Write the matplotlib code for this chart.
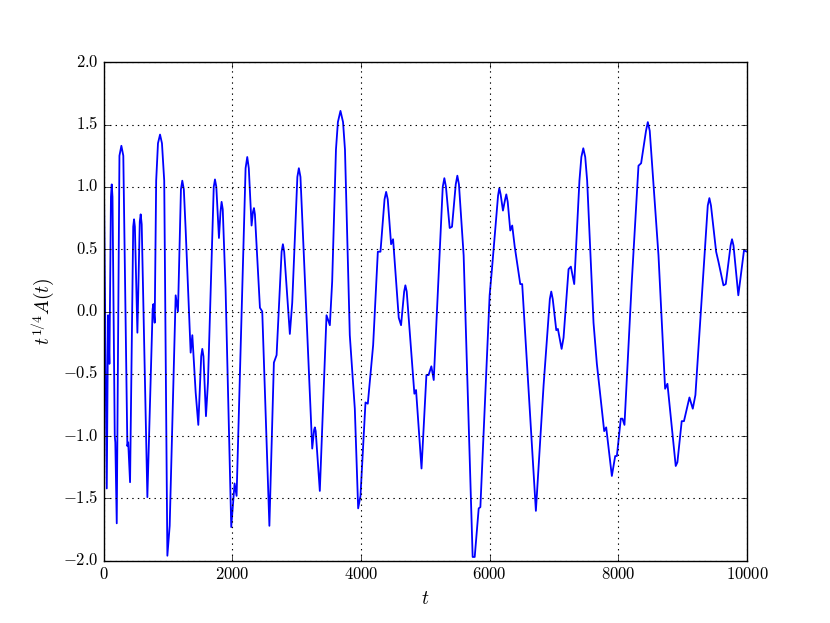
import matplotlib
matplotlib.use("Agg")
import matplotlib.pyplot as plt
from matplotlib.ticker import FuncFormatter

t_vals = [
    0, 47, 67, 88, 112, 124, 136, 171, 180, 202,
    244, 274, 304, 367, 380, 409, 458, 471, 484, 523,
    560, 574, 590, 678, 760, 772, 792, 815, 843, 875,
    905, 940, 989, 1025, 1118, 1154, 1200, 1221, 1245, 1273,
    1351, 1377, 1429, 1470, 1515, 1532, 1550, 1589, 1620, 1710,
    1729, 1750, 1791, 1815, 1832, 1850, 1894, 1982, 2034, 2065,
    2205, 2231, 2255, 2298, 2320, 2335, 2350, 2428, 2464, 2575,
    2645, 2687, 2765, 2785, 2805, 2893, 2930, 3010, 3033, 3058,
    3241, 3270, 3282, 3295, 3359, 3463, 3515, 3551, 3610, 3640,
    3680, 3720, 3750, 3825, 3903, 3955, 3991, 4069, 4105, 4188,
    4261, 4302, 4365, 4390, 4415, 4467, 4498, 4586, 4622, 4670,
    4689, 4710, 4829, 4855, 4940, 5016, 5050, 5093, 5130, 5270,
    5295, 5320, 5378, 5414, 5472, 5497, 5522, 5595, 5735, 5767,
    5829, 5855, 5999, 6035, 6130, 6149, 6170, 6206, 6240, 6258,
    6280, 6320, 6350, 6389, 6475, 6505, 6718, 6838, 6935, 6957,
    6980, 7035, 7060, 7118, 7148, 7226, 7262, 7314, 7395, 7425,
    7455, 7485, 7515, 7614, 7666, 7780, 7811, 7899, 7951, 7977,
    8038, 8064, 8095, 8209, 8313, 8354, 8430, 8458, 8488, 8624,
    8727, 8763, 8892, 8918, 8985, 9020, 9105, 9157, 9198, 9390,
    9415, 9440, 9520, 9556, 9634, 9670, 9745, 9767, 9790, 9865,
    9953, 10000]
a_vals = [
    1.20, -1.42, -0.03, -0.42, 0.92, 1.02, 0.92, -1.00, -1.05, -1.70,
    1.25, 1.33, 1.25, -1.08, -1.05, -1.37, 0.68, 0.74, 0.68, -0.17,
    0.72, 0.78, 0.70, -1.49, 0.02, 0.06, -0.09, 1.05, 1.35, 1.42,
    1.35, 1.05, -1.96, -1.72, 0.13, 0.00, 0.98, 1.05, 0.98, 0.66,
    -0.33, -0.19, -0.65, -0.91, -0.36, -0.30, -0.36, -0.84, -0.57, 1.00,
    1.06, 1.00, 0.59, 0.80, 0.88, 0.82, 0.18, -1.73, -1.38, -1.48,
    1.15, 1.24, 1.15, 0.69, 0.80, 0.83, 0.78, 0.03, 0.00, -1.72,
    -0.41, -0.35, 0.48, 0.54, 0.48, -0.18, 0.07, 1.08, 1.15, 1.08,
    -1.10, -0.95, -0.93, -0.96, -1.44, -0.03, -0.11, 0.24, 1.30, 1.52,
    1.61, 1.52, 1.30, -0.19, -0.78, -1.58, -1.48, -0.73, -0.74, -0.27,
    0.48, 0.48, 0.90, 0.96, 0.90, 0.54, 0.58, -0.05, -0.11, 0.16,
    0.21, 0.16, -0.66, -0.63, -1.26, -0.51, -0.51, -0.44, -0.55, 1.00,
    1.07, 1.00, 0.67, 0.68, 1.02, 1.09, 1.02, 0.45, -1.97, -1.97,
    -1.58, -1.57, 0.13, 0.34, 0.93, 0.99, 0.94, 0.81, 0.90, 0.94,
    0.88, 0.65, 0.69, 0.52, 0.22, 0.22, -1.60, -0.59, 0.10, 0.16,
    0.10, -0.15, -0.14, -0.30, -0.21, 0.34, 0.36, 0.22, 1.05, 1.24,
    1.31, 1.24, 1.05, -0.09, -0.42, -0.96, -0.93, -1.32, -1.16, -1.16,
    -0.86, -0.86, -0.91, 0.24, 1.17, 1.19, 1.45, 1.52, 1.45, 0.45,
    -0.62, -0.58, -1.24, -1.21, -0.88, -0.88, -0.69, -0.78, -0.67, 0.85,
    0.91, 0.85, 0.48, 0.40, 0.21, 0.22, 0.53, 0.58, 0.53, 0.13,
    0.49, 0.48]

x_ticks = [0, 2000, 4000, 6000, 8000, 10000]
y_ticks = [-2.0, -1.5, -1.0, -0.5, 0.0, 0.5, 1.0, 1.5, 2.0]

plt.style.use('classic')
plt.rcParams['mathtext.fontset'] = 'cm'
plt.rcParams['font.family'] = 'serif'
plt.rcParams['font.serif'] = ['DejaVu Serif']

fig = plt.figure(figsize=(8.3, 6.23), dpi=100, facecolor='white')
ax = fig.add_axes([0.125, 0.1, 0.775, 0.8])
ax.plot(t_vals, a_vals, color='#0000ff', linewidth=1.3)
ax.set_xlim(0, 10000)
ax.set_ylim(-2.0, 2.0)
ax.set_xticks(x_ticks)
ax.set_yticks(y_ticks)
ax.xaxis.set_major_formatter(FuncFormatter(lambda v, p: r'$%d$' % v))
ax.yaxis.set_major_formatter(FuncFormatter(lambda v, p: r'$%.1f$' % v))
ax.grid(True, color='black', linestyle=':', linewidth=0.8)
ax.set_xlabel(r'$t$', fontsize=14)
ax.set_ylabel(r'$t^{1/4}A(t)$', fontsize=14)
fig.savefig('out.png', dpi=100, facecolor='white')
